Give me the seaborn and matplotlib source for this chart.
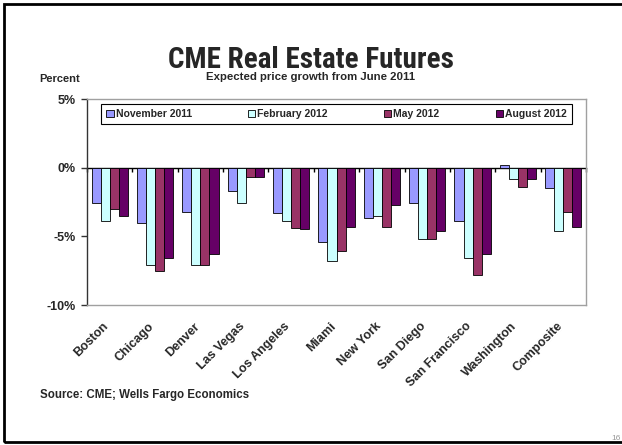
import numpy as np
import pandas as pd
import matplotlib
matplotlib.use('Agg')
import matplotlib.pyplot as plt
import matplotlib.transforms as mtransforms
from matplotlib import font_manager as fm
from matplotlib.patches import Rectangle, Patch
import seaborn as sns

cities = ['Boston', 'Chicago', 'Denver', 'Las Vegas', 'Los Angeles', 'Miami',
          'New York', 'San Diego', 'San Francisco', 'Washington', 'Composite']
series_names = ['November 2011', 'February 2012', 'May 2012', 'August 2012']
nov_2011 = [-2.6, -4.0, -3.2, -1.7, -3.3, -5.4, -3.7, -2.6, -3.9, 0.2, -1.5]
feb_2012 = [-3.9, -7.1, -7.1, -2.6, -3.9, -6.8, -3.5, -5.2, -6.6, -0.8, -4.6]
may_2012 = [-3.0, -7.5, -7.1, -0.7, -4.4, -6.1, -4.3, -5.2, -7.8, -1.4, -3.2]
aug_2012 = [-3.5, -6.6, -6.3, -0.7, -4.5, -4.3, -2.7, -4.6, -6.3, -0.8, -4.3]
colors = ['#9999FF', '#CCFFFF', '#993366', '#660066']
ytick_values = [5, 0, -5, -10]
ytick_labels = ['5%', '0%', '-5%', '-10%']

df = pd.DataFrame({
    'city': cities * 4,
    'series': np.repeat(series_names, len(cities)),
    'value': nov_2011 + feb_2012 + may_2012 + aug_2012,
})

sns.set_theme(style='white')
plt.rcParams['font.family'] = ['Liberation Sans', 'DejaVu Sans']
plt.rcParams['font.weight'] = 'bold'


def find_condensed_bold():
    prefs = ['Liberation Sans Narrow', 'Roboto Condensed', 'Open Sans Condensed',
             'DejaVu Sans Condensed', 'Noto Sans Condensed']
    cands = []
    for f in fm.fontManager.ttflist:
        name = f.name
        fname = f.fname.lower()
        is_cond = ('narrow' in name.lower() or 'condensed' in name.lower()
                   or 'narrow' in fname or 'condensed' in fname
                   or str(f.stretch) in ('condensed', 'semi-condensed',
                                         'extra-condensed', '500', '300', '400'))
        w = f.weight if isinstance(f.weight, int) else (700 if 'bold' in str(f.weight) else 400)
        is_bold = w >= 600 or 'bold' in fname
        if is_cond and is_bold and 'italic' not in fname and 'oblique' not in fname:
            rank = len(prefs)
            for i, p in enumerate(prefs):
                if p.lower().replace(' ', '') in (name + fname).lower().replace(' ', ''):
                    rank = i
                    break
            cands.append((rank, f.fname))
    if cands:
        cands.sort()
        return cands[0][1]
    return None


cond_path = find_condensed_bold()

W, H = 622, 445
fig = plt.figure(figsize=(W / 100, H / 100), dpi=100)
fig.patch.set_facecolor('white')
ax = fig.add_axes([87 / W, 1 - 305 / H, (586 - 87) / W, (305 - 99) / H])

sns.barplot(data=df, x='city', y='value', hue='series', order=cities,
            hue_order=series_names, palette=colors, width=0.8, gap=0,
            edgecolor='black', linewidth=0.6, saturation=1, errorbar=None,
            legend=False, ax=ax)

ax.set_xlim(-0.5, len(cities) - 0.5)
ax.set_ylim(-10, 5)
ax.set_xlabel('')
ax.set_ylabel('')

for s in ['top', 'right', 'bottom']:
    ax.spines[s].set_color('#A0A0A0')
    ax.spines[s].set_linewidth(1)
ax.spines['left'].set_color('#333333')
ax.spines['left'].set_linewidth(1)

ax.set_yticks(ytick_values)
ax.set_yticklabels(ytick_labels, fontsize=9, fontweight='bold')
ax.tick_params(axis='y', left=True, length=4, width=1, color='#333333', pad=4)

ax.set_xticks(range(len(cities)))
ax.set_xticklabels(cities, rotation=45, ha='right', va='top',
                   rotation_mode='anchor', fontsize=9, fontweight='bold')
ax.tick_params(axis='x', bottom=True, length=0, pad=11)
offset = mtransforms.ScaledTranslation(-7 / 100, 0, fig.dpi_scale_trans)
for lab in ax.get_xticklabels():
    lab.set_transform(lab.get_transform() + offset)

# zero category axis with boundary ticks
sec = ax.secondary_xaxis(0, transform=ax.transData)
sec.set_xticks(np.arange(-0.5, len(cities), 1))
sec.tick_params(axis='x', bottom=True, top=False, length=3, width=1,
                color='black', direction='out', labelbottom=False, labeltop=False)
sec.spines['bottom'].set_color('black')
sec.spines['bottom'].set_linewidth(1)

handles = [Patch(facecolor=c, edgecolor='black', linewidth=0.6) for c in colors]
leg = ax.legend(handles, series_names, loc='upper left',
                bbox_to_anchor=(14 / 499, 0.869, 471 / 499, 0.107),
                mode='expand', ncol=4, frameon=True, fancybox=False,
                edgecolor='black', framealpha=1, handlelength=0.7,
                handleheight=0.7, handletextpad=0.2, borderaxespad=0,
                borderpad=0.5, prop={'weight': 'bold', 'size': 7.5})
leg.get_frame().set_linewidth(0.8)

if cond_path:
    title_fp = fm.FontProperties(fname=cond_path, size=21)
else:
    title_fp = fm.FontProperties(family=['Liberation Sans', 'DejaVu Sans'],
                                 weight='bold', size=17.5)
fig.text(0.5, 1 - 68.5 / H, 'CME Real Estate Futures', ha='center',
         va='baseline', fontproperties=title_fp)
fig.text(0.5, 1 - 80 / H, 'Expected price growth from June 2011', ha='center',
         va='baseline', fontsize=8.2, fontweight='bold')
fig.text(60 / W, 1 - 79 / H, 'Percent', ha='center', va='center', fontsize=8,
         fontweight='bold')
fig.text(40 / W, 1 - 395 / H, 'Source: CME; Wells Fargo Economics', ha='left',
         va='center', fontsize=8.3, fontweight='bold')
fig.text(611 / W, 1 - 440 / H, '16', ha='left', va='baseline', fontsize=6,
         color='#999999', fontweight='normal')

fig.add_artist(Rectangle((4 / W, 3 / H), 1.2, (442 - 4) / H,
                         transform=fig.transFigure, fill=False,
                         edgecolor='black', linewidth=2, clip_on=False))

fig.savefig('out.png', dpi=100, facecolor='white')
